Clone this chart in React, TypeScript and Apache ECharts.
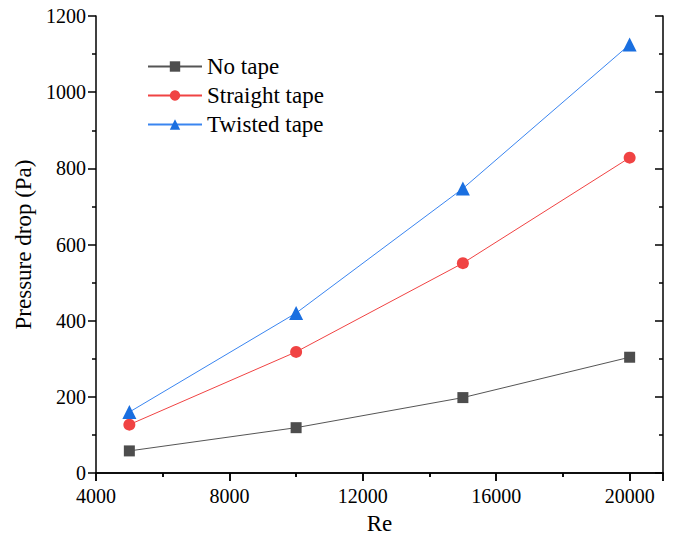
import React, { useEffect, useRef } from "react";
import * as echarts from "echarts";

const reValues = [5000, 10000, 15000, 20000];
const noTape = [58, 119, 198, 304];
const straightTape = [127, 318, 551, 828];
const twistedTape = [160, 420, 747, 1125];
const seriesNames = ["No tape", "Straight tape", "Twisted tape"];

const FONT = "'Liberation Serif', 'Times New Roman', serif";

export default function App() {
  const ref = useRef<HTMLDivElement>(null);
  useEffect(() => {
    if (!ref.current) return;
    const chart = echarts.init(ref.current, undefined, { renderer: "svg" });
    const pts = (ys: number[]) => reValues.map((x, i) => [x, ys[i]]);
    const axisLine = { show: true, lineStyle: { color: "#000", width: 1.5 } };
    const fmt = (v: number) => String(v);
    chart.setOption({
      animation: false,
      backgroundColor: "#fff",
      grid: { left: 96, right: 11, top: 16, bottom: 70, containLabel: false },
      legend: {
        orient: "vertical",
        left: 142,
        top: 50,
        itemWidth: 54,
        itemHeight: 13,
        itemGap: 6,
        textStyle: { fontFamily: FONT, fontSize: 23, color: "#000" },
        data: seriesNames,
      },
      xAxis: [
        {
          type: "value",
          min: 4000,
          max: 21000,
          interval: 4000,
          name: "Re",
          nameLocation: "middle",
          nameGap: 39,
          nameTextStyle: { fontFamily: FONT, fontSize: 23, color: "#000" },
          axisLine,
          axisTick: { show: true, inside: false, length: 8, lineStyle: { color: "#000", width: 1.5 } },
          minorTick: { show: true, splitNumber: 2, length: 4, lineStyle: { color: "#000", width: 1.5 } },
          splitLine: { show: false },
          axisLabel: { fontFamily: FONT, fontSize: 20, color: "#000", margin: 13, formatter: fmt },
        },
        {
          type: "value",
          position: "top",
          min: 4000,
          max: 21000,
          interval: 4000,
          axisLine,
          axisTick: { show: true, inside: true, length: 8, lineStyle: { color: "#000", width: 1.5 } },
          minorTick: { show: true, splitNumber: 2, length: 4, lineStyle: { color: "#000", width: 1.5 } },
          splitLine: { show: false },
          axisLabel: { show: false },
        },
      ],
      yAxis: [
        {
          type: "value",
          min: 0,
          max: 1200,
          interval: 200,
          name: "Pressure drop (Pa)",
          nameLocation: "middle",
          nameGap: 57,
          nameTextStyle: { fontFamily: FONT, fontSize: 23, color: "#000" },
          axisLine,
          axisTick: { show: true, inside: false, length: 8, lineStyle: { color: "#000", width: 1.5 } },
          minorTick: { show: true, splitNumber: 2, length: 4, lineStyle: { color: "#000", width: 1.5 } },
          splitLine: { show: false },
          axisLabel: { fontFamily: FONT, fontSize: 20, color: "#000", margin: 10, formatter: fmt },
        },
        {
          type: "value",
          position: "right",
          min: 0,
          max: 1200,
          interval: 200,
          axisLine,
          axisTick: { show: true, inside: true, length: 8, lineStyle: { color: "#000", width: 1.5 } },
          minorTick: { show: true, splitNumber: 2, length: 4, lineStyle: { color: "#000", width: 1.5 } },
          splitLine: { show: false },
          axisLabel: { show: false },
        },
      ],
      series: [
        {
          name: seriesNames[0],
          type: "line",
          data: pts(noTape),
          symbol: "rect",
          symbolSize: 11,
          color: "#4d4d4d",
          lineStyle: { width: 1, color: "#555" },
          itemStyle: { color: "#4d4d4d" },
        },
        {
          name: seriesNames[1],
          type: "line",
          data: pts(straightTape),
          symbol: "circle",
          symbolSize: 12,
          color: "#f04343",
          lineStyle: { width: 1, color: "#f04343" },
          itemStyle: { color: "#f04343" },
        },
        {
          name: seriesNames[2],
          type: "line",
          data: pts(twistedTape),
          symbol: "triangle",
          symbolSize: 14,
          color: "#1a6fe0",
          lineStyle: { width: 1, color: "#3a85f0" },
          itemStyle: { color: "#1a6fe0" },
        },
      ],
    });
    return () => chart.dispose();
  }, []);
  return <div ref={ref} style={{ width: 674, height: 543, position: "absolute", left: 0, top: 0 }} />;
}
